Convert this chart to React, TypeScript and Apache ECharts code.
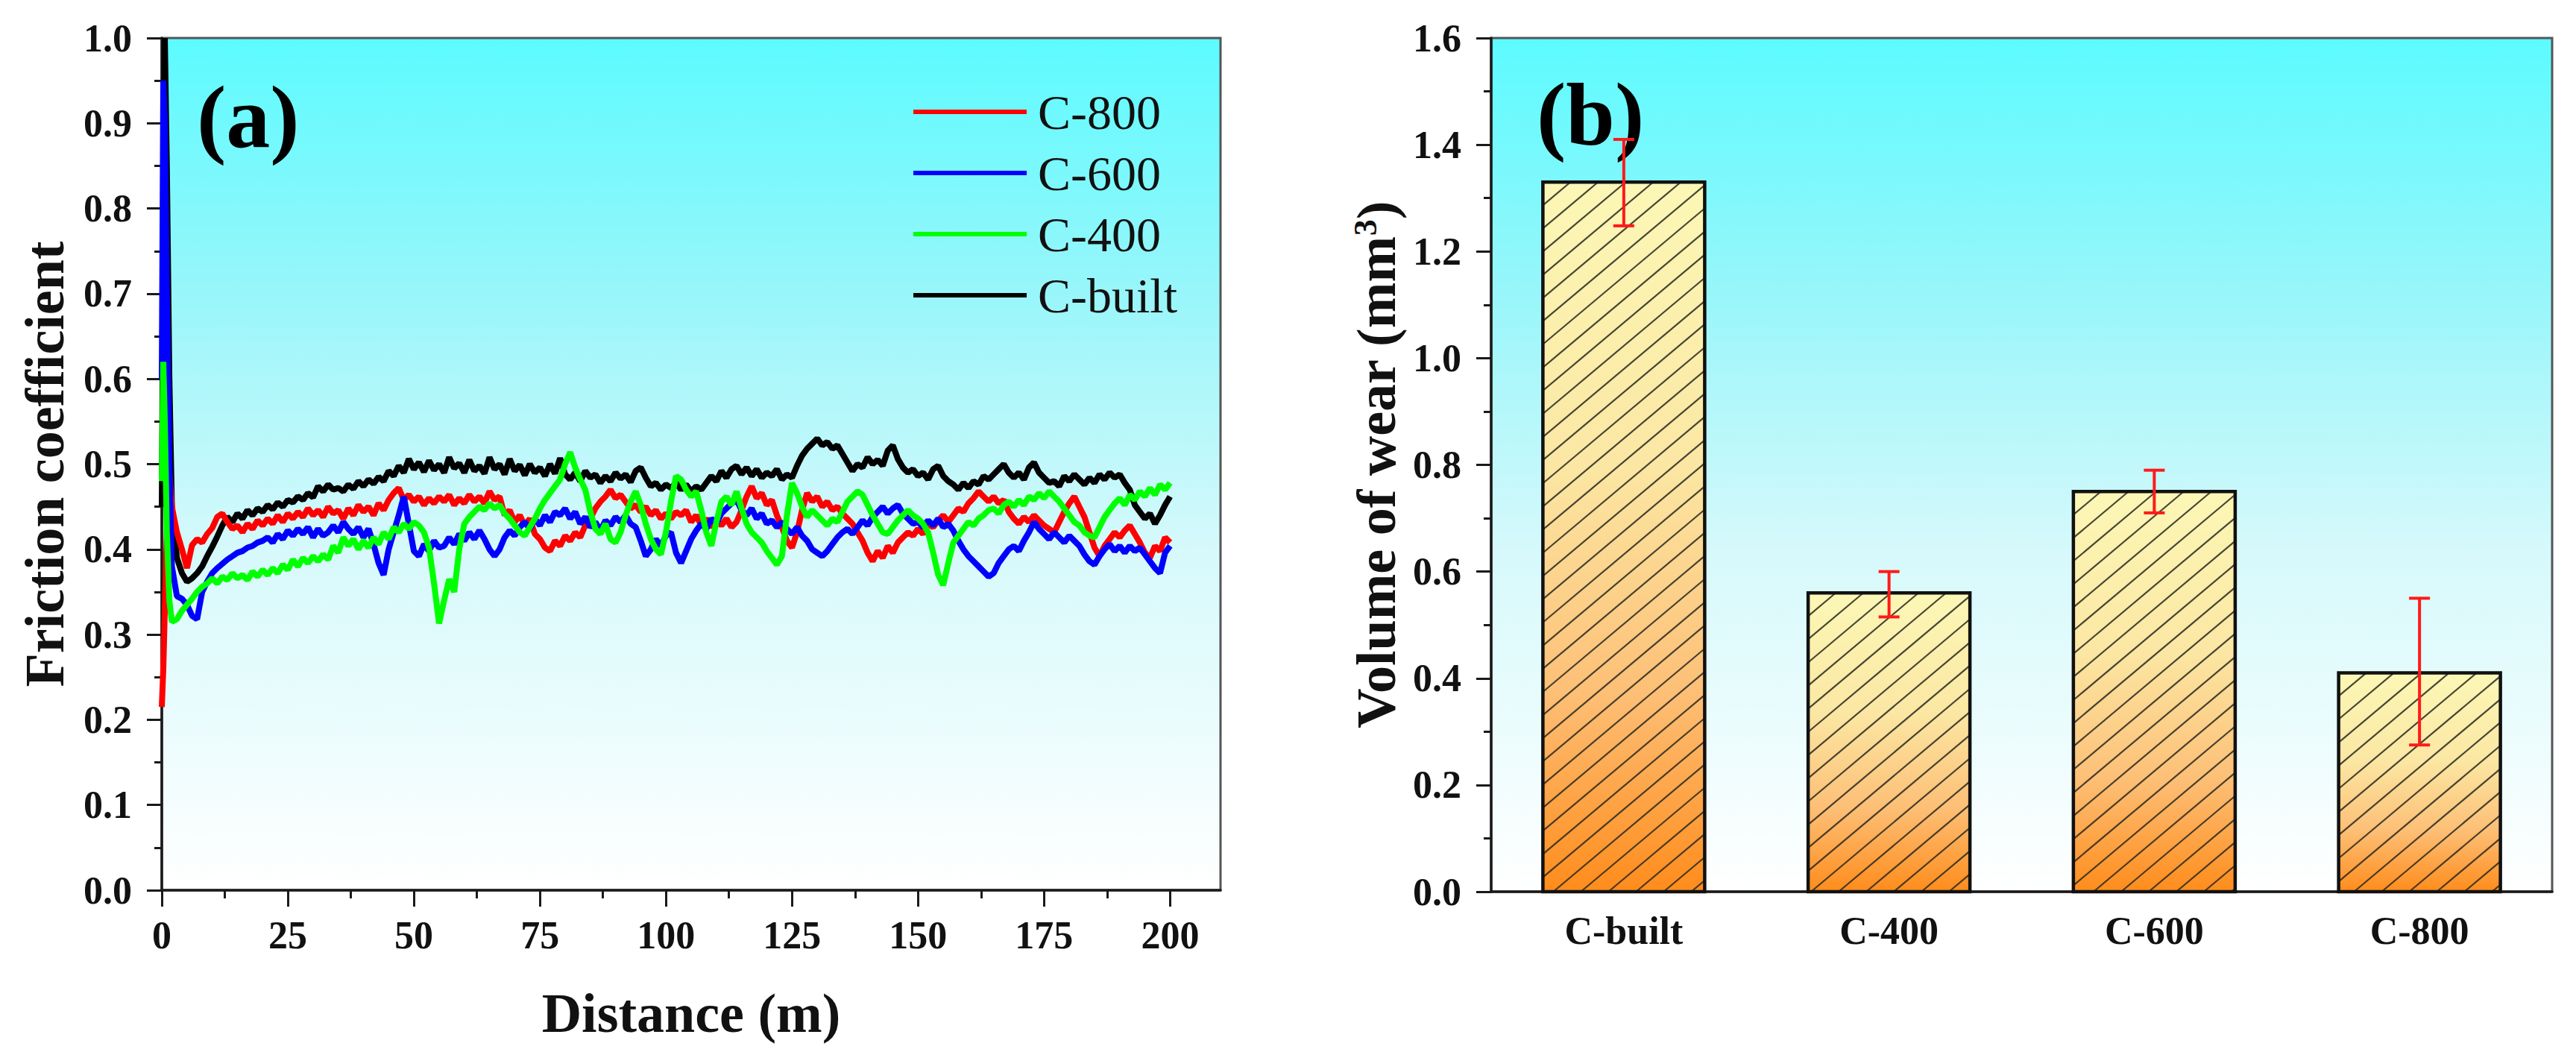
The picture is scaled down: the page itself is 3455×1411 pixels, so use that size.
import React, { useEffect, useRef } from 'react';
import * as echarts from 'echarts';

// ---------- Data ----------
const distance = [
  0, 0.3, 0.6, 1, 1.5, 2,
  3, 4, 5, 6, 7, 8, 9,
  10, 11, 12, 13, 14, 15, 16, 17, 18, 19,
  20, 21, 22, 23, 24, 25, 26, 27, 28, 29,
  30, 31, 32, 33, 34, 35, 36, 37, 38, 39,
  40, 41, 42, 43, 44, 45, 46, 47, 48, 49,
  50, 51, 52, 53, 54, 55, 56, 57, 58, 59,
  60, 61, 62, 63, 64, 65, 66, 67, 68, 69,
  70, 71, 72, 73, 74, 75, 76, 77, 78, 79,
  80, 81, 82, 83, 84, 85, 86, 87, 88, 89,
  90, 91, 92, 93, 94, 95, 96, 97, 98, 99,
  100, 101, 102, 103, 104, 105, 106, 107, 108, 109,
  110, 111, 112, 113, 114, 115, 116, 117, 118, 119,
  120, 121, 122, 123, 124, 125, 126, 127, 128, 129,
  130, 131, 132, 133, 134, 135, 136, 137, 138, 139,
  140, 141, 142, 143, 144, 145, 146, 147, 148, 149,
  150, 151, 152, 153, 154, 155, 156, 157, 158, 159,
  160, 161, 162, 163, 164, 165, 166, 167, 168, 169,
  170, 171, 172, 173, 174, 175, 176, 177, 178, 179,
  180, 181, 182, 183, 184, 185, 186, 187, 188, 189,
  190, 191, 192, 193, 194, 195, 196, 197, 198, 199,
  200,
];

const cBuilt = [
  0.45, 0.75, 1.0, 0.85, 0.60, 0.45,
  0.390, 0.372, 0.362, 0.366, 0.372, 0.380, 0.392,
  0.403, 0.415, 0.428, 0.438, 0.432, 0.442, 0.436, 0.446, 0.440, 0.448,
  0.444, 0.452, 0.447, 0.455, 0.450, 0.458, 0.455, 0.462, 0.458, 0.466,
  0.461, 0.474, 0.468, 0.476, 0.470, 0.472, 0.468, 0.476, 0.471, 0.480,
  0.474, 0.482, 0.477, 0.485, 0.480, 0.492, 0.486, 0.498, 0.490, 0.506,
  0.494, 0.502, 0.491, 0.504, 0.493, 0.500, 0.490, 0.508, 0.495, 0.501,
  0.490, 0.505, 0.492, 0.498, 0.489, 0.508, 0.494, 0.500, 0.488, 0.506,
  0.492, 0.499, 0.487, 0.500, 0.490, 0.496, 0.486, 0.500, 0.489, 0.507,
  0.488, 0.482, 0.490, 0.480, 0.492, 0.484, 0.488, 0.478, 0.486, 0.480,
  0.490, 0.483, 0.488, 0.479, 0.492, 0.496, 0.484, 0.474, 0.478, 0.470,
  0.476, 0.472, 0.478, 0.470, 0.476, 0.468, 0.474, 0.470, 0.478, 0.486,
  0.480, 0.492, 0.484, 0.494, 0.498, 0.488, 0.496, 0.486, 0.494, 0.484,
  0.490, 0.486, 0.494, 0.482, 0.488, 0.484, 0.498, 0.510, 0.518, 0.524,
  0.530, 0.522, 0.526, 0.518, 0.522, 0.512, 0.502, 0.492, 0.500, 0.496,
  0.508, 0.500, 0.505, 0.498, 0.516, 0.522, 0.506, 0.496, 0.490, 0.494,
  0.486, 0.490, 0.482, 0.494, 0.498, 0.486, 0.480, 0.476, 0.470, 0.478,
  0.472, 0.480, 0.476, 0.486, 0.482, 0.488, 0.494, 0.500, 0.490, 0.484,
  0.490, 0.482, 0.496, 0.502, 0.490, 0.484, 0.478, 0.480, 0.474, 0.486,
  0.480, 0.488, 0.482, 0.476, 0.484, 0.478, 0.488, 0.482, 0.490, 0.484,
  0.488, 0.478, 0.470, 0.452, 0.444, 0.436, 0.442, 0.430, 0.440, 0.452,
  0.462,
];

const c800 = [
  0.215, 0.26, 0.33, 0.42, 0.49, 0.45,
  0.420, 0.400, 0.378, 0.405, 0.412, 0.408, 0.418,
  0.425, 0.438, 0.442, 0.432, 0.424, 0.428, 0.420, 0.430, 0.424, 0.434,
  0.428, 0.436, 0.430, 0.440, 0.432, 0.442, 0.436, 0.444, 0.438, 0.448,
  0.440, 0.446, 0.438, 0.450, 0.442, 0.446, 0.436, 0.448, 0.440, 0.452,
  0.444, 0.450, 0.440, 0.454, 0.446, 0.458, 0.466, 0.472, 0.458, 0.464,
  0.456, 0.462, 0.452, 0.460, 0.454, 0.462, 0.456, 0.464, 0.452, 0.460,
  0.454, 0.464, 0.456, 0.462, 0.454, 0.468, 0.458, 0.462, 0.440, 0.446,
  0.432, 0.440, 0.428, 0.436, 0.418, 0.412, 0.402, 0.398, 0.410, 0.404,
  0.416, 0.410, 0.420, 0.414, 0.428, 0.436, 0.448, 0.456, 0.462, 0.470,
  0.460, 0.464, 0.456, 0.448, 0.452, 0.444, 0.450, 0.440, 0.446, 0.436,
  0.442, 0.436, 0.444, 0.440, 0.446, 0.432, 0.440, 0.428, 0.436, 0.426,
  0.434, 0.428, 0.436, 0.426, 0.432, 0.446, 0.462, 0.474, 0.460, 0.466,
  0.452, 0.458, 0.440, 0.426, 0.410, 0.402, 0.420, 0.446, 0.466, 0.456,
  0.462, 0.450, 0.456, 0.446, 0.450, 0.442, 0.436, 0.430, 0.420, 0.410,
  0.396, 0.386, 0.398, 0.390, 0.404, 0.396, 0.408, 0.414, 0.420, 0.416,
  0.424, 0.418, 0.430, 0.426, 0.434, 0.440, 0.432, 0.440, 0.448, 0.444,
  0.454, 0.460, 0.468, 0.462, 0.456, 0.462, 0.454, 0.458, 0.444, 0.436,
  0.430, 0.438, 0.432, 0.440, 0.434, 0.428, 0.424, 0.420, 0.432, 0.444,
  0.454, 0.462, 0.450, 0.438, 0.420, 0.402, 0.392, 0.404, 0.412, 0.420,
  0.414, 0.422, 0.428, 0.418, 0.408, 0.396, 0.390, 0.404, 0.398, 0.414,
  0.408,
];

const c600 = [
  0.60, 0.95, 0.90, 0.70, 0.50, 0.38,
  0.345, 0.342, 0.335, 0.322, 0.318, 0.350, 0.362,
  0.372, 0.378, 0.383, 0.388, 0.392, 0.396, 0.398, 0.402, 0.404, 0.408,
  0.410, 0.414, 0.408, 0.418, 0.412, 0.422, 0.416, 0.424, 0.418, 0.426,
  0.414, 0.424, 0.416, 0.420, 0.428, 0.420, 0.432, 0.424, 0.418, 0.426,
  0.414, 0.424, 0.406, 0.384, 0.370, 0.400, 0.420, 0.440, 0.462, 0.430,
  0.398, 0.392, 0.406, 0.398, 0.410, 0.402, 0.404, 0.414, 0.406, 0.418,
  0.410, 0.420, 0.412, 0.422, 0.412, 0.400, 0.392, 0.400, 0.414, 0.422,
  0.416, 0.426, 0.432, 0.424, 0.436, 0.428, 0.440, 0.432, 0.444, 0.440,
  0.448, 0.436, 0.444, 0.430, 0.438, 0.426, 0.432, 0.422, 0.434, 0.428,
  0.438, 0.432, 0.440, 0.430, 0.426, 0.410, 0.392, 0.400, 0.412, 0.404,
  0.416, 0.420, 0.396, 0.384, 0.398, 0.412, 0.422, 0.430, 0.424, 0.436,
  0.430, 0.442, 0.448, 0.454, 0.458, 0.446, 0.440, 0.448, 0.436, 0.442,
  0.430, 0.434, 0.426, 0.432, 0.424, 0.418, 0.426, 0.416, 0.410, 0.400,
  0.396, 0.392, 0.398, 0.406, 0.414, 0.420, 0.424, 0.418, 0.426, 0.434,
  0.428, 0.438, 0.444, 0.450, 0.442, 0.448, 0.452, 0.442, 0.436, 0.430,
  0.432, 0.426, 0.434, 0.428, 0.436, 0.426, 0.430, 0.422, 0.410, 0.400,
  0.392, 0.386, 0.380, 0.374, 0.368, 0.372, 0.384, 0.392, 0.400, 0.404,
  0.398, 0.410, 0.420, 0.432, 0.424, 0.418, 0.412, 0.420, 0.414, 0.408,
  0.416, 0.410, 0.404, 0.394, 0.386, 0.382, 0.392, 0.400, 0.406, 0.398,
  0.404, 0.396, 0.404, 0.398, 0.402, 0.394, 0.386, 0.378, 0.372, 0.396,
  0.404,
];

const c400 = [
  0.48, 0.62, 0.55, 0.42, 0.34, 0.315,
  0.318, 0.328, 0.335, 0.342, 0.350, 0.356, 0.360,
  0.366, 0.360, 0.368, 0.364, 0.372, 0.366, 0.370, 0.364, 0.374, 0.368,
  0.376, 0.370, 0.378, 0.372, 0.382, 0.376, 0.388, 0.380, 0.390, 0.384,
  0.392, 0.386, 0.394, 0.388, 0.404, 0.396, 0.414, 0.404, 0.412, 0.400,
  0.410, 0.402, 0.414, 0.406, 0.420, 0.412, 0.426, 0.420, 0.430, 0.424,
  0.432, 0.428, 0.420, 0.402, 0.360, 0.313, 0.340, 0.365, 0.350, 0.400,
  0.430, 0.438, 0.444, 0.450, 0.446, 0.454, 0.448, 0.452, 0.442, 0.436,
  0.428, 0.420, 0.416, 0.426, 0.436, 0.448, 0.458, 0.466, 0.474, 0.482,
  0.500, 0.514, 0.496, 0.482, 0.470, 0.444, 0.424, 0.418, 0.430, 0.412,
  0.408, 0.420, 0.440, 0.456, 0.468, 0.452, 0.430, 0.412, 0.400, 0.394,
  0.420, 0.456, 0.486, 0.482, 0.470, 0.462, 0.468, 0.446, 0.420, 0.404,
  0.432, 0.456, 0.462, 0.452, 0.468, 0.448, 0.430, 0.420, 0.414, 0.408,
  0.398, 0.390, 0.382, 0.392, 0.440, 0.478, 0.466, 0.450, 0.438, 0.446,
  0.440, 0.434, 0.428, 0.436, 0.432, 0.444, 0.456, 0.462, 0.468, 0.464,
  0.452, 0.440, 0.430, 0.420, 0.418, 0.426, 0.434, 0.440, 0.446, 0.440,
  0.436, 0.430, 0.420, 0.396, 0.370, 0.358, 0.384, 0.408, 0.416, 0.424,
  0.432, 0.428, 0.436, 0.440, 0.446, 0.448, 0.442, 0.452, 0.456, 0.450,
  0.458, 0.452, 0.462, 0.458, 0.466, 0.460, 0.468, 0.462, 0.456, 0.448,
  0.440, 0.432, 0.428, 0.420, 0.416, 0.414, 0.426, 0.438, 0.446, 0.454,
  0.460, 0.452, 0.464, 0.458, 0.468, 0.462, 0.472, 0.464, 0.476, 0.470,
  0.478,
];

const xMajorTicks = [0, 25, 50, 75, 100, 125, 150, 175, 200];
const xMinorTicks = [12.5, 37.5, 62.5, 87.5, 112.5, 137.5, 162.5, 187.5];

const wearCategories = ['C-built', 'C-400', 'C-600', 'C-800'];
const wearMean = [1.33, 0.56, 0.75, 0.41];
const wearLow = [1.248, 0.515, 0.71, 0.275];
const wearHigh = [1.41, 0.6, 0.79, 0.55];

const legendOrder = ['C-800', 'C-600', 'C-400', 'C-built'];

// ---------- Styles ----------
const SERIF = "'Liberation Serif', 'Times New Roman', serif";
const AXIS = '#1a1a1a';

const plotBg = () =>
  new echarts.graphic.LinearGradient(0, 0, 0, 1, [
    { offset: 0, color: '#5cfbff' },
    { offset: 0.3, color: '#98f6fa' },
    { offset: 0.6, color: '#d6f9fb' },
    { offset: 1, color: '#ffffff' },
  ]);

const pair = (ys: number[]) => distance.map((x, i) => [x, ys[i]]);

export default function App() {
  const ref = useRef<HTMLDivElement>(null);

  useEffect(() => {
    if (!ref.current) return;
    const chart = echarts.init(ref.current, undefined, { renderer: 'svg' });

    const axisLine = { show: true, onZero: false, lineStyle: { color: AXIS, width: 3.5 } };
    const tickStyle = { color: AXIS, width: 3 };
    const tickLabel = { color: '#111', fontFamily: SERIF, fontWeight: 'bold' as const, fontSize: 52 };
    const nameStyle = { color: '#111', fontFamily: SERIF, fontWeight: 'bold' as const, fontSize: 74 };

    const lineSeries = (name: string, ys: number[], color: string) => ({
      name,
      type: 'line',
      xAxisIndex: 0,
      yAxisIndex: 0,
      data: pair(ys),
      showSymbol: false,
      symbol: 'none',
      lineStyle: { color, width: 8 },
      itemStyle: { color },
      emphasis: { disabled: true },
    });

    const barData = wearCategories.map((_, i) => [i, wearMean[i], wearLow[i], wearHigh[i]]);

    const option: any = {
      animation: false,
      backgroundColor: '#ffffff',
      textStyle: { fontFamily: SERIF },
      grid: [
        { left: 217, top: 51, width: 1420, height: 1143, show: true, backgroundColor: plotBg(), borderColor: '#555', borderWidth: 3 },
        { left: 2000, top: 51, width: 1423, height: 1145, show: true, backgroundColor: plotBg(), borderColor: '#555', borderWidth: 3 },
      ],
      xAxis: [
        {
          type: 'value', gridIndex: 0, min: 0, max: 210, position: 'bottom',
          name: 'Distance (m)', nameLocation: 'middle', nameGap: 128, nameTextStyle: nameStyle,
          axisLine,
          axisTick: { show: true, length: 22, customValues: xMajorTicks, lineStyle: tickStyle },
          axisLabel: { ...tickLabel, customValues: xMajorTicks, margin: 34 },
          splitLine: { show: false },
        },
        {
          type: 'value', gridIndex: 0, min: 0, max: 210, position: 'bottom',
          axisLine: { show: false },
          axisTick: { show: true, length: 11, customValues: xMinorTicks, lineStyle: tickStyle },
          axisLabel: { show: false },
          splitLine: { show: false },
        },
        {
          type: 'category', gridIndex: 1, data: wearCategories,
          axisLine,
          axisTick: { show: false },
          axisLabel: { ...tickLabel, margin: 26 },
          splitLine: { show: false },
        },
      ],
      yAxis: [
        {
          type: 'value', gridIndex: 0, min: 0, max: 1, interval: 0.1,
          name: 'Friction coefficient', nameLocation: 'middle', nameGap: 120, nameTextStyle: nameStyle,
          axisLine,
          axisTick: { show: true, length: 20, lineStyle: tickStyle },
          minorTick: { show: true, splitNumber: 2, length: 10, lineStyle: tickStyle },
          axisLabel: { ...tickLabel, margin: 40, formatter: (v: number) => v.toFixed(1) },
          splitLine: { show: false },
          minorSplitLine: { show: false },
        },
        {
          type: 'value', gridIndex: 1, min: 0, max: 1.6, interval: 0.2,
          name: 'Volume of wear (mm{sup|3})', nameLocation: 'middle', nameGap: 117,
          nameTextStyle: {
            ...nameStyle,
            rich: { sup: { fontFamily: SERIF, fontWeight: 'bold', fontSize: 44, color: '#111', verticalAlign: 'top' } },
          },
          axisLine,
          axisTick: { show: true, length: 20, lineStyle: tickStyle },
          minorTick: { show: true, splitNumber: 2, length: 10, lineStyle: tickStyle },
          axisLabel: { ...tickLabel, margin: 40, formatter: (v: number) => v.toFixed(1) },
          splitLine: { show: false },
          minorSplitLine: { show: false },
        },
      ],
      legend: {
        orient: 'vertical', left: 1220, top: 112,
        itemWidth: 152, itemHeight: 6, itemGap: 16, icon: 'rect',
        data: legendOrder,
        textStyle: {
          fontFamily: SERIF,
          fontWeight: 'normal',
          fontSize: 66,
          color: '#111',
          padding: [0, 0, 0, 10],
        },
      },
      series: [
        lineSeries('C-built', cBuilt, '#000000'),
        lineSeries('C-800', c800, '#ff0000'),
        lineSeries('C-600', c600, '#0000ff'),
        lineSeries('C-400', c400, '#00ff00'),
        {
          type: 'custom',
          xAxisIndex: 2,
          yAxisIndex: 1,
          data: barData,
          encode: { x: 0, y: [1, 2, 3] },
          renderItem: (_params: any, api: any) => {
            const i = api.value(0);
            const v = api.value(1);
            const lo = api.value(2);
            const hi = api.value(3);
            const base = api.coord([i, 0]);
            const top = api.coord([i, v]);
            const band = api.size([1, 0])[0];
            const w = band * 0.61;
            const x = base[0] - w / 2;
            const y = top[1];
            const h = base[1] - top[1];
            const yb = y + h;
            const children: any[] = [];
            children.push({
              type: 'rect',
              shape: { x, y, width: w, height: h },
              style: {
                fill: new echarts.graphic.LinearGradient(0, 0, 0, 1, [
                  { offset: 0, color: '#fcf7b6' },
                  { offset: 0.4, color: '#fbe7a3' },
                  { offset: 0.72, color: '#fdbf76' },
                  { offset: 1, color: '#ff8c1c' },
                ]),
              },
            });
            // diagonal hatch, about 40 degrees
            const k = 0.84;
            const step = 37;
            const span = h / k;
            for (let c = x - span; c < x + w; c += step) {
              const d0 = Math.max(0, x - c);
              const d1 = Math.min(span, x + w - c);
              if (d1 > d0) {
                children.push({
                  type: 'line',
                  shape: { x1: c + d0, y1: yb - d0 * k, x2: c + d1, y2: yb - d1 * k },
                  style: { stroke: 'rgba(40,40,30,0.85)', lineWidth: 2.2 },
                });
              }
            }
            children.push({
              type: 'rect',
              shape: { x, y, width: w, height: h },
              style: { fill: 'none', stroke: '#111', lineWidth: 4.5 },
            });
            const pHi = api.coord([i, hi]);
            const pLo = api.coord([i, lo]);
            const cap = 14;
            const cx = base[0];
            const red = { stroke: '#ff1a1a', lineWidth: 4 };
            children.push({ type: 'line', shape: { x1: cx, y1: pHi[1], x2: cx, y2: pLo[1] }, style: red });
            children.push({ type: 'line', shape: { x1: cx - cap, y1: pHi[1], x2: cx + cap, y2: pHi[1] }, style: red });
            children.push({ type: 'line', shape: { x1: cx - cap, y1: pLo[1], x2: cx + cap, y2: pLo[1] }, style: red });
            return { type: 'group', children };
          },
        },
      ],
      graphic: [
        { type: 'text', left: 264, top: 98, style: { text: '(a)', font: `bold 118px ${SERIF}`, fill: '#000' } },
        { type: 'text', left: 2061, top: 94, style: { text: '(b)', font: `bold 118px ${SERIF}`, fill: '#000' } },
      ],
    };

    chart.setOption(option);
    return () => chart.dispose();
  }, []);

  return (
    <div
      ref={ref}
      style={{ position: 'fixed', left: 0, top: 0, width: 3455, height: 1411, background: '#fff' }}
    />
  );
}
